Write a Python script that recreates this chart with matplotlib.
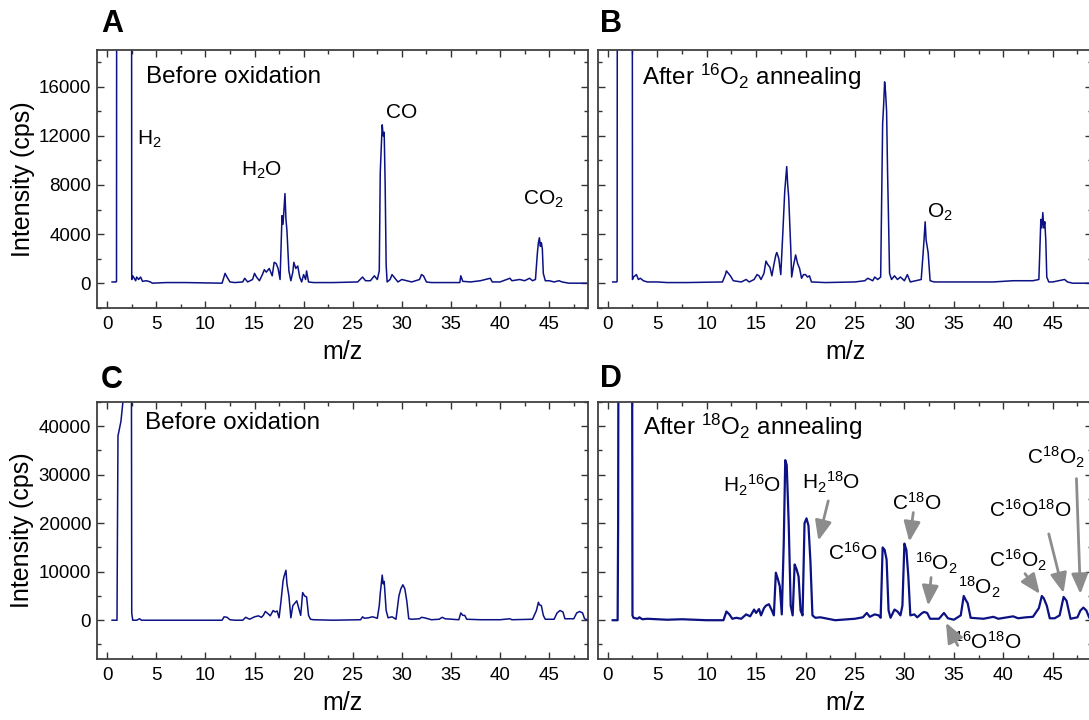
import numpy as np
import matplotlib
matplotlib.use("Agg")
import matplotlib.pyplot as plt
from matplotlib.ticker import MultipleLocator

plt.rcParams['font.family'] = ['Liberation Sans', 'DejaVu Sans']
plt.rcParams['mathtext.default'] = 'regular'

#### Data (m/z, intensity in cps) ####
# H2 peak goes off scale -> 80000

mz_a = [0.5, 0.9, 0.95, 1.0, 2.45, 2.5, 2.6, 2.9, 3.0, 3.2,
        3.4, 3.6, 4.0, 4.4, 4.6, 6.0, 8.0, 11.7, 12.0, 12.2,
        12.5, 13.0, 13.8, 14.0, 14.3, 14.8, 15.0, 15.2, 15.5, 15.8,
        16.0, 16.2, 16.5, 16.8, 17.0, 17.2, 17.4, 17.6, 17.8, 17.9,
        18.0, 18.1, 18.2, 18.3, 18.5, 18.7, 18.9, 19.0, 19.2, 19.4,
        19.6, 19.8, 20.0, 20.2, 20.3, 20.5, 21.0, 23.0, 25.5, 26.0,
        26.3, 26.8, 27.2, 27.5, 27.7, 27.8, 27.9, 28.0, 28.1, 28.2,
        28.3, 28.4, 28.5, 28.8, 29.0, 29.3, 29.6, 30.0, 30.5, 31.0,
        31.8, 32.0, 32.2, 32.5, 33.0, 35.9, 36.0, 36.2, 37.0, 38.0,
        39.0, 39.2, 40.0, 41.0, 41.2, 42.0, 42.5, 43.0, 43.3, 43.6,
        43.8, 43.9, 44.0, 44.1, 44.2, 44.3, 44.4, 44.6, 45.0, 45.5,
        46.0, 46.3, 47.0, 49.0]
int_a = [100, 100, 150, 80000, 80000, 300, 600, 200, 500, 300,
         500, 150, 200, 100, 0, 50, 50, 0, 800, 500,
         100, 50, 100, 400, 100, 300, 800, 500, 200, 700,
         1100, 900, 1200, 600, 1700, 1600, 1200, 300, 5500, 4800,
         6000, 7300, 5200, 4300, 1000, 200, 900, 1700, 1200, 1400,
         500, 100, 700, 300, 1000, 100, 50, 50, 100, 500,
         200, 200, 600, 300, 1000, 9000, 11000, 12900, 12000, 12300,
         8000, 1500, 100, 300, 700, 400, 100, 300, 200, 100,
         300, 700, 600, 100, 50, 50, 600, 150, 100, 200,
         400, 100, 100, 400, 200, 300, 200, 400, 200, 300,
         2500, 3300, 3700, 3000, 3300, 2800, 800, 200, 200, 100,
         200, 100, 0, 0]

mz_b = [0.5, 0.9, 0.95, 1.0, 2.45, 2.5, 2.6, 2.9, 3.1, 3.3,
        3.6, 4.0, 5.0, 6.0, 8.0, 11.6, 11.9, 12.0, 12.2, 12.4,
        12.7, 13.5, 14.0, 14.3, 14.8, 15.1, 15.3, 15.5, 15.8, 16.0,
        16.2, 16.4, 16.6, 16.8, 17.0, 17.1, 17.3, 17.5, 17.7, 17.9,
        18.0, 18.1, 18.2, 18.3, 18.5, 18.6, 18.8, 19.0, 19.2, 19.4,
        19.6, 19.8, 20.0, 20.2, 20.4, 20.6, 22.0, 25.0, 26.0, 26.3,
        26.8, 27.0, 27.3, 27.6, 27.8, 27.9, 28.0, 28.1, 28.2, 28.3,
        28.4, 28.5, 28.7, 29.0, 29.3, 29.6, 30.0, 30.3, 30.6, 31.7,
        31.9, 32.0, 32.1, 32.2, 32.4, 32.6, 33.0, 35.0, 36.0, 38.0,
        39.0, 41.0, 42.0, 43.0, 43.6, 43.8, 43.9, 44.0, 44.1, 44.2,
        44.3, 44.4, 44.6, 45.0, 46.2, 46.5, 47.0, 49.0]
int_b = [100, 100, 150, 80000, 80000, 300, 500, 700, 300, 400,
         200, 100, 100, 50, 50, 100, 700, 1000, 800, 600,
         200, 100, 300, 100, 300, 700, 600, 300, 800, 1800,
         1500, 1300, 600, 1500, 2300, 2500, 2000, 700, 4000, 7500,
         8500, 9500, 8000, 7000, 3000, 500, 1500, 2300, 1600, 1200,
         400, 700, 700, 500, 600, 100, 50, 100, 200, 400,
         200, 500, 300, 500, 13000, 14500, 16400, 15500, 14000, 9000,
         5000, 800, 300, 600, 300, 500, 200, 700, 100, 300,
         2500, 3700, 5000, 3500, 2500, 200, 100, 100, 100, 100,
         100, 200, 200, 200, 300, 5200, 4500, 5750, 4500, 5000,
         3500, 500, 100, 100, 300, 100, 0, 0]

mz_c = [0.5, 1.0, 1.05, 1.1, 1.2, 1.4, 1.6, 1.8, 2.0, 2.45,
        2.5, 2.6, 3.0, 3.3, 3.5, 5.0, 8.0, 11.7, 11.9, 12.2,
        12.5, 13.0, 13.8, 14.1, 14.5, 15.0, 15.4, 15.7, 15.9, 16.1,
        16.4, 16.6, 16.9, 17.1, 17.3, 17.5, 17.7, 17.9, 18.0, 18.2,
        18.3, 18.5, 18.7, 18.9, 19.1, 19.3, 19.5, 19.7, 19.9, 20.1,
        20.3, 20.5, 20.7, 21.0, 23.0, 25.8, 26.0, 26.2, 26.6, 27.0,
        27.2, 27.5, 27.7, 27.8, 28.0, 28.1, 28.2, 28.4, 28.6, 29.0,
        29.4, 29.7, 29.9, 30.1, 30.3, 30.5, 30.7, 31.0, 31.8, 32.0,
        32.3, 33.0, 33.8, 34.1, 34.4, 35.8, 36.0, 36.2, 36.4, 36.6,
        38.0, 40.0, 41.0, 41.2, 43.3, 43.7, 43.9, 44.0, 44.2, 44.4,
        44.6, 45.5, 45.8, 46.1, 46.4, 46.6, 47.5, 47.8, 48.1, 48.4,
        48.6, 49.0]
int_c = [0, 0, 20000, 38000, 39000, 41000, 45000, 80000, 80000, 80000,
         1500, 0, 0, 300, 0, 0, 0, 0, 700, 600,
         100, 0, 0, 600, 200, 700, 900, 600, 1000, 1800,
         1300, 900, 2000, 1700, 1900, 500, 4000, 8000, 9000, 10300,
         7500, 5000, 500, 3000, 3500, 4000, 2500, 1000, 5700, 5000,
         4800, 1000, 200, 100, 0, 100, 700, 400, 500, 700,
         600, 400, 3000, 5500, 9300, 7500, 8000, 2000, 500, 700,
         200, 5000, 6500, 7300, 6500, 4000, 300, 200, 300, 600,
         500, 100, 200, 600, 300, 100, 1500, 1000, 1000, 200,
         100, 100, 300, 100, 200, 2000, 3700, 3200, 3000, 1000,
         200, 200, 1500, 2000, 1700, 300, 300, 1500, 1800, 1500,
         300, 0]

mz_d = [0.5, 1.0, 1.05, 1.1, 2.45, 2.5, 2.6, 3.0, 3.2, 3.5,
        4.0, 6.0, 7.5, 10.0, 11.7, 12.0, 12.3, 12.6, 13.0, 13.5,
        14.0, 14.4, 14.8, 15.0, 15.3, 15.5, 15.8, 16.0, 16.3, 16.6,
        16.8, 17.0, 17.2, 17.4, 17.6, 17.8, 17.95, 18.1, 18.3, 18.5,
        18.7, 18.9, 19.1, 19.3, 19.5, 19.7, 19.9, 20.1, 20.3, 20.5,
        20.7, 21.0, 21.5, 23.0, 25.0, 25.8, 26.2, 26.5, 27.0, 27.4,
        27.6, 27.8, 28.0, 28.2, 28.4, 28.6, 29.0, 29.3, 29.6, 29.8,
        30.0, 30.2, 30.4, 30.6, 31.0, 31.3, 31.8, 32.0, 32.3, 32.6,
        33.5, 34.0, 34.4, 35.0, 35.7, 36.0, 36.2, 36.4, 36.7, 38.0,
        39.0, 39.5, 41.0, 41.5, 42.3, 43.0, 43.6, 43.9, 44.1, 44.4,
        44.7, 45.2, 45.7, 46.1, 46.4, 46.8, 47.5, 47.8, 48.1, 48.4,
        48.7, 49.0]
int_d = [0, 0, 20000, 80000, 80000, 1000, 500, 300, 600, 200,
         300, 100, 200, 0, 0, 1800, 1200, 300, 500, 300,
         1200, 800, 2200, 1500, 2300, 1000, 2500, 3000, 3300, 2000,
         1000, 9800, 8500, 7000, 1200, 16000, 33000, 32000, 20000, 3000,
         1000, 11500, 10500, 9000, 2000, 1000, 20000, 21000, 19500, 12000,
         1000, 500, 600, 0, 300, 600, 1500, 700, 1200, 1000,
         500, 15000, 14500, 12500, 2000, 500, 2200, 1800, 1000, 3000,
         15800, 14500, 9000, 1000, 1200, 600, 1500, 1700, 1500, 300,
         300, 1500, 400, 100, 1000, 5000, 4200, 3500, 500, 300,
         700, 300, 800, 400, 600, 700, 2500, 5000, 4500, 3000,
         400, 400, 1000, 4800, 4000, 300, 600, 2000, 2600, 2000,
         500, 200]

titres = ['Before oxidation', r'After $^{16}$O$_2$ annealing',
          'Before oxidation', r'After $^{18}$O$_2$ annealing']
lettres = ['A', 'B', 'C', 'D']

# labels panneau A / B : (texte, x, y)
labels_a = [(r'H$_2$', 4.3, 11700), (r'H$_2$O', 15.7, 9200),
            ('CO', 30.0, 13900), (r'CO$_2$', 44.4, 6800)]
labels_b = [(r'O$_2$', 33.6, 5800)]
# labels panneau D : (texte, x, y, fleche depart, fleche pointe)
labels_d = [(r'H$_2$$^{16}$O', 14.6, 27800, None, None),
            (r'H$_2$$^{18}$O', 22.6, 28400, (22.3, 24600), (21.3, 16400)),
            (r'C$^{16}$O', 24.8, 13800, None, None),
            (r'C$^{18}$O', 31.2, 24300, (30.9, 22200), (30.5, 16200)),
            (r'$^{16}$O$_2$', 33.2, 11800, (32.7, 8800), (32.4, 3000)),
            (r'$^{18}$O$_2$', 37.6, 6700, None, None),
            (r'$^{16}$O$^{18}$O', 38.4, -4500, (35.4, -5200), (34.2, -500)),
            (r'C$^{16}$O$_2$', 41.5, 12300, (42.2, 9600), (43.7, 5400)),
            (r'C$^{16}$O$^{18}$O', 42.7, 22700, (44.6, 17800), (46.1, 5600)),
            (r'C$^{18}$O$_2$', 45.3, 33500, (47.4, 29200), (47.8, 5400))]

#### Figure ####
fig = plt.figure(figsize=(10.89, 7.2), dpi=100)
positions = [[0.0894, 0.5726, 0.451, 0.358],
             [0.549, 0.5726, 0.454, 0.358],
             [0.0894, 0.0847, 0.451, 0.357],
             [0.549, 0.0847, 0.454, 0.357]]
donnees = [(mz_a, int_a), (mz_b, int_b), (mz_c, int_c), (mz_d, int_d)]
bleu = '#0c1283'

axes = []
for i in range(4):
    ax = fig.add_axes(positions[i])
    mz, inten = donnees[i]
    lw = 1.6 if i == 3 else 1.1
    ax.plot(mz, inten, color=bleu, lw=lw)
    ax.set_xlim(-1, 49)
    if i < 2:
        ax.set_ylim(-2000, 19000)
        ax.yaxis.set_major_locator(MultipleLocator(4000))
        ax.yaxis.set_minor_locator(MultipleLocator(2000))
    else:
        ax.set_ylim(-8000, 45000)
        ax.yaxis.set_major_locator(MultipleLocator(10000))
        ax.yaxis.set_minor_locator(MultipleLocator(5000))
    ax.xaxis.set_major_locator(MultipleLocator(5))
    ax.xaxis.set_minor_locator(MultipleLocator(2.5))
    ax.tick_params(which='both', direction='in', top=True, right=True,
                   labelsize=13.5, color='#333333', pad=4.5)
    ax.tick_params(axis='x', which='both', pad=6)
    ax.tick_params(which='major', length=5, width=1)
    ax.tick_params(which='minor', length=3, width=1)
    for s in ax.spines.values():
        s.set_color('#404040')
        s.set_linewidth(1.3)
    if i % 2 == 1:
        ax.set_yticklabels([])
    else:
        ax.set_ylabel('Intensity (cps)', fontsize=18, labelpad=3)
    ax.set_xlabel('m/z', fontsize=18, labelpad=5)
    ty = [0.896, 0.895, 0.917, 0.903][i]
    tx = [0.100, 0.090, 0.097, 0.092][i]
    ax.text(tx, ty, titres[i], transform=ax.transAxes, fontsize=17.5,
            va='center', ha='left')
    axes.append(ax)

coords_lettres = [(0.103, 0.967), (0.561, 0.967), (0.103, 0.472), (0.561, 0.473)]
for l, (x, y) in zip(lettres, coords_lettres):
    fig.text(x, y, l, fontsize=22, fontweight='bold', ha='center', va='center')

for t, x, y in labels_a:
    axes[0].text(x, y, t, fontsize=15, ha='center', va='center')
for t, x, y in labels_b:
    axes[1].text(x, y, t, fontsize=15, ha='center', va='center')
for t, x, y, dep, pt in labels_d:
    axes[3].text(x, y, t, fontsize=15, ha='center', va='center')
    if dep is not None:
        axes[3].annotate('', xy=pt, xytext=dep,
                         arrowprops=dict(arrowstyle='-|>,head_length=0.6,head_width=0.25',
                                         color='#8c8c8c', lw=2, mutation_scale=20,
                                         shrinkA=0, shrinkB=0))

fig.savefig('out.png', dpi=100)
